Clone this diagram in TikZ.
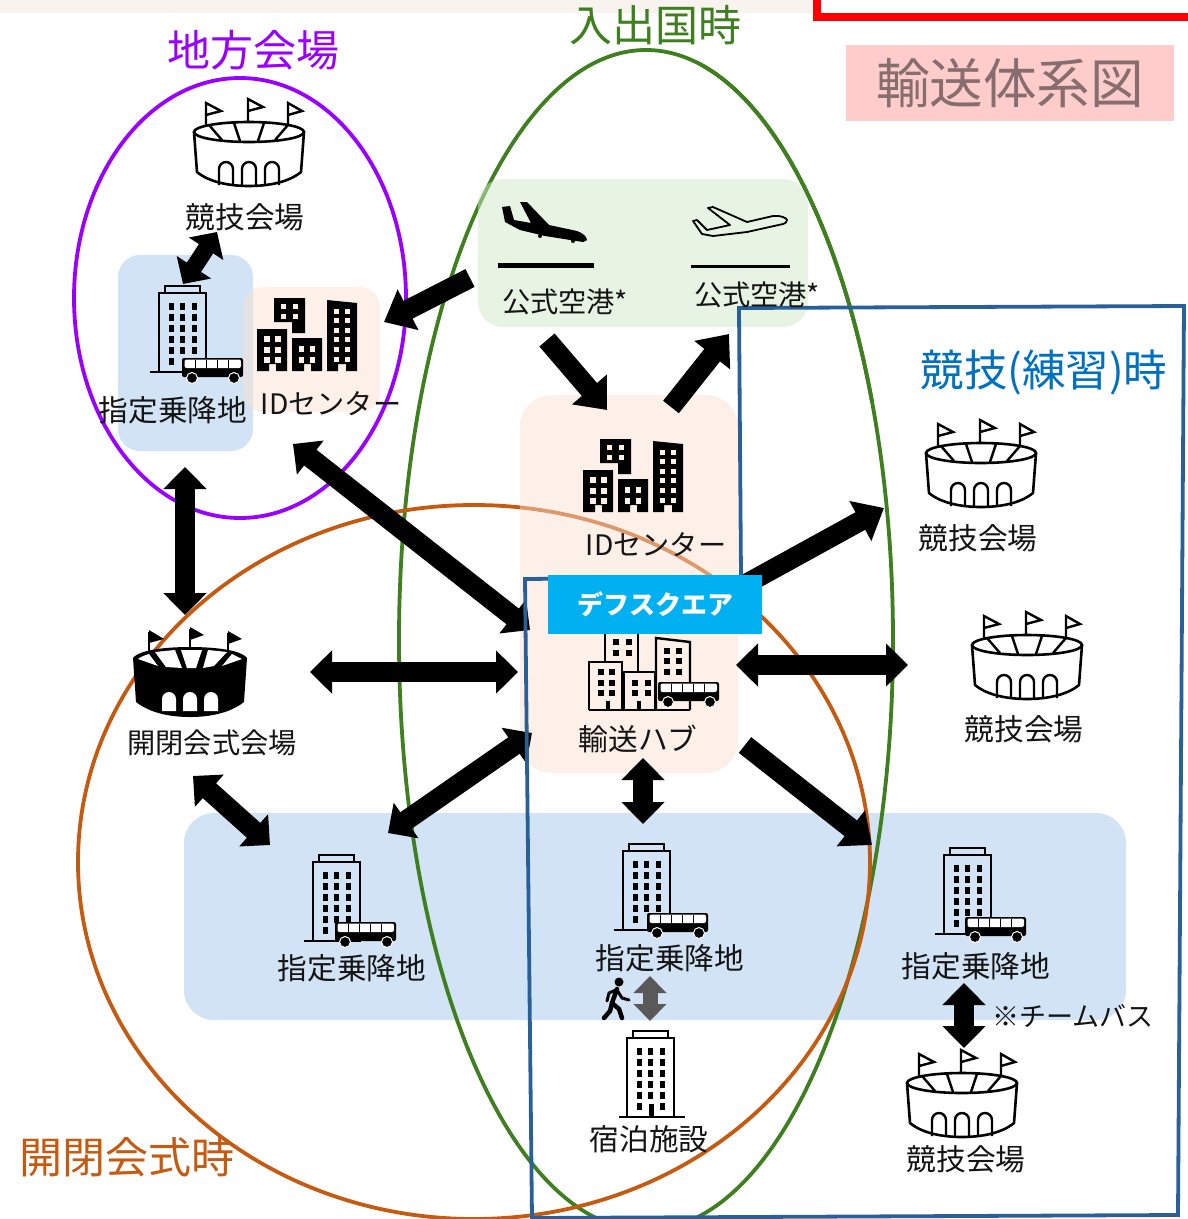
\documentclass[tikz,border=0pt]{standalone}
\usepackage{fontspec}
\setmainfont{Noto Sans CJK JP}
\usetikzlibrary{arrows.meta}
\definecolor{cpurple}{HTML}{9900FF}
\definecolor{cgreen}{HTML}{3F7F20}
\definecolor{corange}{HTML}{C55A11}
\definecolor{cblue}{HTML}{2A6099}
\definecolor{clabelblue}{HTML}{0070C0}
\definecolor{cband}{HTML}{D2E3F5}
\definecolor{cpeach}{HTML}{FBE1D2}
\definecolor{cpeachw}{HTML}{FDF0E8}
\definecolor{cgbox}{HTML}{D3EBC9}
\definecolor{ctitle}{HTML}{866E6E}
\definecolor{ctitlebg}{HTML}{FFCCCC}
\definecolor{cgrey}{HTML}{595959}
\definecolor{cdefs}{HTML}{00B0F0}
\definecolor{cstrip}{HTML}{F9F3F0}
\tikzset{
  ringline/.style={line width=3.8pt},
  lab/.style={font=\fontsize{29.7}{30}\selectfont,inner sep=0pt,text=black!92},
  labm/.style={font=\fontsize{28.2}{30}\selectfont,inner sep=0pt,text=black!92},
  labs/.style={font=\fontsize{27.5}{30}\selectfont,inner sep=0pt,text=black!92},
  biglab/.style={font=\fontsize{43}{43}\selectfont,inner sep=0pt},
  oneway/.style={line width=20pt,black,-{Triangle[length=27pt,width=44pt]}},
  twoway/.style={line width=20pt,black,{Triangle[length=22pt,width=42pt]}-{Triangle[length=22pt,width=42pt]}},
  smalltwo/.style={line width=17pt,black,{Triangle[length=20pt,width=40pt]}-{Triangle[length=20pt,width=40pt]}},
  greytwo/.style={line width=15pt,cgrey,{Triangle[length=17pt,width=32pt]}-{Triangle[length=17pt,width=32pt]}},
  stadium/.pic={
    \draw[line width=2.6pt,line join=round] (-55,0) -- (-52,40) .. controls (-40,50) and (-20,54) .. (0,54) .. controls (20,54) and (40,50) .. (52,40) -- (55,0);
    \draw[line width=2.6pt] (0,0) ellipse[x radius=55,y radius=10];
    \draw[line width=2.4pt] (-40,-7) -- (-27,8) (-15,-9) -- (-9,9) (15,-9) -- (9,9) (39,-7) -- (26,8);
    \foreach \ax in {-23,0,23}{\draw[line width=2.4pt] (\ax-7,53) -- (\ax-7,37) arc[start angle=180,end angle=360,radius=7] -- (\ax+7,53);}
    \draw[line width=2.4pt,line join=miter] (-43,-7) -- (-43,-29) -- (-28,-21) -- (-43,-17);
    \draw[line width=2.4pt,line join=miter] (-1,-11) -- (-1,-33) -- (14,-25) -- (-1,-21);
    \draw[line width=2.4pt,line join=miter] (39,-7) -- (39,-29) -- (53,-21) -- (39,-17);
  },
  stadiumblack/.pic={
    \fill[black] (-57,0) -- (-54,44) .. controls (-40,55) and (-20,59) .. (0,59) .. controls (20,59) and (40,55) .. (54,44) -- (57,0) .. controls (50,-9) and (20,-11) .. (0,-11) .. controls (-20,-11) and (-50,-9) .. (-57,0) -- cycle;
    \fill[white] (-52,1) .. controls (-48,-2) and (-44,-3) .. (-41,-4) -- (-32,8) -- cycle;
    \fill[white] (-35,-6) -- (-15,-8) -- (-8,10) -- (-24,9) -- cycle;
    \fill[white] (-9,-8) -- (12,-8) -- (6,10) -- (-3,10) -- cycle;
    \fill[white] (18,-8) -- (37,-6) -- (24,8) -- (13,10) -- cycle;
    \fill[white] (42,-4) -- (52,1) -- (32,8) -- cycle;
    \foreach \ax in {-21,0,21}{\fill[white] (\ax-7,53) -- (\ax-7,41) arc[start angle=180,end angle=360,radius=7] -- (\ax+7,53) -- cycle;}
    \draw[line width=2.4pt] (-41,-6) -- (-41,-26) (0,-8) -- (0,-29) (38,-6) -- (38,-25);
    \fill (-41,-28) -- (-26,-19) -- (-41,-15) -- cycle;
    \fill (0,-31) -- (14,-23) -- (0,-18) -- cycle;
    \fill (38,-27) -- (52,-19) -- (38,-14) -- cycle;
  },
  hotelbody/.pic={
    \draw[line width=2.5pt] (0,0) rectangle (47,-79);
    \draw[line width=2.5pt] (6,-79) -- (6,-86) -- (41,-86) -- (41,-79);
    \foreach \yy in {-69,-58,-47,-36,-25}{\foreach \xx in {9.5,21,33}{\fill (\xx,\yy) rectangle +(5,7);}}
  },
  stopicon/.pic={
    \pic {hotelbody};
    \fill (9.5,-14) rectangle +(5,7);
    \draw[line width=2.5pt] (-9,0) -- (23,0);
  },
  busicon/.pic={
    \fill[black,rounded corners=2pt] (0,0) rectangle (61,19);
    \fill[white,rounded corners=2pt] (2.5,1.5) rectangle (59,10);
    \draw[line width=1pt,black] (13,1.5) -- (13,10) (24,1.5) -- (24,10) (35,1.5) -- (35,10) (46,1.5) -- (46,10);
    \draw[line width=1pt,white,fill=black] (10,20) circle[radius=5.5];
    \draw[line width=1pt,white,fill=black] (52,20) circle[radius=5.5];
  },
  idicon/.pic={
    \fill (0,0) -- (0,-42) -- (30,-42) -- (30,0) -- (19,0) -- (19,-7) -- (12,-7) -- (12,0) -- cycle;
    \fill (35,0) -- (35,-33) -- (65,-33) -- (65,0) -- (54,0) -- (54,-7) -- (47,-7) -- (47,0) -- cycle;
    \fill (17,-49) -- (17,-73) -- (48,-73) -- (48,-38) -- (35,-38) -- (35,-49) -- cycle;
    \fill (70,0) -- (70,-71) -- (100,-68) -- (100,0) -- (89,0) -- (89,-7) -- (81,-7) -- (81,0) -- cycle;
    \foreach \xx in {7,18}{\foreach \yy in {-35,-24,-14}{\fill[cpeachw] (\xx,\yy) rectangle +(6,6);}}
    \foreach \xx in {42,53}{\foreach \yy in {-25,-14}{\fill[cpeachw] (\xx,\yy) rectangle +(5,6);}}
    \foreach \xx in {24,36}{\foreach \yy in {-67,-57}{\fill[cpeachw] (\xx,\yy) rectangle +(5,5);}}
    \foreach \xx in {77,88}{\foreach \yy in {-62,-53,-43,-34,-24,-14}{\fill[cpeachw] (\xx,\yy) rectangle +(5,5);}}
  },
}
\begin{document}
\begin{tikzpicture}[x=1pt,y=-1pt]
\useasboundingbox (0,0) rectangle (1187,1219);
\fill[white] (0,0) rectangle (1187,1219);
% top strip and red frame
\fill[cstrip] (0,0) rectangle (812,13);
\draw[red,line width=8pt] (817,-5) -- (817,17) -- (1195,17);
% title
\node[fill=ctitlebg,minimum width=328pt,minimum height=75pt,inner sep=0pt,text=ctitle,font=\fontsize{53.6}{54}\selectfont] (title) at (1010,83.5) {輸送体系図};
\fill[ctitlebg] (846,45) rectangle (1174,46);
% band
\fill[cband,rounded corners=30pt] (184,813) rectangle (1126,1020);
% ellipses
\draw[cgreen,ringline] (646,640) ellipse[x radius=247,y radius=590];
\draw[corange,ringline] (474,862) ellipse[x radius=396,y radius=357];
% translucent boxes
\fill[cgbox,opacity=.5,rounded corners=25pt] (478,179) rectangle (808,327);
\fill[cpeach,opacity=.47,rounded corners=32pt] (520,395) rectangle (738,773);
\begin{scope}
\clip (700,50) rectangle (900,400);
\draw[cgreen,ringline] (646,640) ellipse[x radius=247,y radius=590];
\end{scope}
% local
\fill[cband,rounded corners=22pt] (118,255) rectangle (253,451);
\fill[cpeach,opacity=.47,rounded corners=20pt] (243,287) rectangle (380,412);
\draw[cpurple,ringline] (240,298) ellipse[x radius=166,y radius=220];
% icons
\pic (st0) at (249,132) {stadium};
\pic (st1) at (981,453) {stadium};
\pic (st2) at (1027,645) {stadium};
\pic (st3) at (962,1083) {stadium};
\pic (st4) at (190,658) {stadiumblack};
\pic (st5) at (159,372) {stopicon};
\pic (st6) at (313,941) {stopicon};
\pic (st7) at (623,930) {stopicon};
\pic (st8) at (944,934) {stopicon};
\pic (bus5) at (182,358) {busicon};
\pic (bus6) at (335,922) {busicon};
\pic (bus7) at (647,913) {busicon};
\pic (bus8) at (965,917) {busicon};
\pic (id1) at (257,371) {idicon};
\pic (id2) at (583,512) {idicon};
% hotel
\pic (ht) at (627,1117) {hotelbody};
\fill (636.5,1103) rectangle +(5,7);
\fill (660,1103) rectangle +(5,7);
\fill (648.5,1104) rectangle (653.5,1117);
\draw[line width=2.5pt] (619,1117) -- (685,1117);
% hub
\begin{scope}[line width=2.4pt]
\draw (605,630) -- (605,662) (638,630) -- (638,672);
\draw (589,710) -- (589,662) -- (622,662) -- (622,710);
\draw (624,710) -- (624,672) -- (655,672) -- (655,710);
\draw (656,710) -- (656,638) -- (690,642) -- (690,710);
\draw (589,710) -- (690,710);
\foreach \xx in {598,609}{\foreach \yy in {669,680,690}{\fill (\xx,\yy) rectangle +(6,6);}}
\foreach \xx in {632,645}{\foreach \yy in {680,690}{\fill (\xx,\yy) rectangle +(6,6);}}
\foreach \xx in {613,626}{\foreach \yy in {639,650}{\fill (\xx,\yy) rectangle +(6,6);}}
\foreach \xx in {664,676}{\foreach \yy in {648,658,669}{\fill (\xx,\yy) rectangle +(6,6);}}
\fill (606,701) rectangle (610,710);
\fill (637,701) rectangle (641,710);
\end{scope}
\pic (bus9) at (658,682) {busicon};
% planes
\fill (502,207) -- (510,206) -- (514,220) -- (531,223) -- (520,202) -- (527,202) -- (549,225) -- (577,231) .. controls (583,233) and (587,237) .. (587,240) -- (583,242) -- (545,236) -- (520,230) -- (505,222) -- cycle;
\fill (540,236) circle[radius=2]; \fill (573,241) circle[radius=2];
\draw[line width=1.8pt,line join=round,fill=none] (693,221) -- (697,220) -- (707,230) -- (730,225) -- (708,208) -- (713,207) -- (747,222) -- (773,216) .. controls (780,215) and (787,218) .. (787,220) .. controls (787,222) and (785,224) .. (783,224) -- (747,232) -- (713,236) -- (702,234) -- cycle;
\fill (498,263) rectangle (594,268);
\fill (691,265) rectangle (790,268);
% arrows
\coordinate (a1a) at (217,232); \coordinate (a1b) at (183,284);
\draw[smalltwo] (a1a) -- (a1b);
\coordinate (a2a) at (470,278); \coordinate (a2b) at (384,322);
\draw[oneway] (a2a) -- (a2b);
\coordinate (a3a) at (547,340); \coordinate (a3b) at (607,410);
\draw[oneway] (a3a) -- (a3b);
\coordinate (a4a) at (671,407); \coordinate (a4b) at (729,334);
\draw[oneway] (a4a) -- (a4b);
\coordinate (a5a) at (185,467); \coordinate (a5b) at (185,615);
\draw[twoway] (a5a) -- (a5b);
\coordinate (a6a) at (293,444); \coordinate (a6b) at (530,630);
\draw[twoway] (a6a) -- (a6b);
\coordinate (a7a) at (310,672); \coordinate (a7b) at (518,672);
\draw[twoway] (a7a) -- (a7b);
\coordinate (a8a) at (388,833); \coordinate (a8b) at (532,733);
\draw[twoway] (a8a) -- (a8b);
\coordinate (a9a) at (193,776); \coordinate (a9b) at (270,845);
\draw[twoway] (a9a) -- (a9b);
\coordinate (a10a) at (735,590); \coordinate (a10b) at (884,508);
\draw[oneway] (a10a) -- (a10b);
\coordinate (a11a) at (736,665); \coordinate (a11b) at (908,665);
\draw[twoway] (a11a) -- (a11b);
\coordinate (a12a) at (745,745); \coordinate (a12b) at (872,845);
\draw[oneway] (a12a) -- (a12b);
\coordinate (a13a) at (643,758); \coordinate (a13b) at (643,824);
\draw[twoway] (a13a) -- (a13b);
\coordinate (a14a) at (650,976); \coordinate (a14b) at (650,1021);
\draw[greytwo] (a14a) -- (a14b);
\coordinate (a15a) at (964,983); \coordinate (a15b) at (964,1048);
\draw[twoway] (a15a) -- (a15b);
% blue frame
\draw[cblue,ringline,line join=miter] (739,308) -- (1184,306) -- (1178,1215) -- (532,1218) -- (525,579) -- (741,577) -- cycle;
% walker
\fill (619,982) circle[radius=4.5];
\draw[line width=4.5pt,line join=round,line cap=round] (617,989) -- (612,1003) -- (619,1009) -- (622,1018);
\draw[line width=4.5pt,line join=round,line cap=round] (612,1003) -- (610,1011) -- (604,1018);
\draw[line width=3pt,line join=round,line cap=round] (617,990) -- (622,998) -- (629,1000);
\draw[line width=3pt,line join=round,line cap=round] (616,990) -- (609,993) -- (607,1001);
% defsquare
\node[fill=cdefs,minimum width=214pt,minimum height=59pt,inner sep=0pt,text=white,font=\fontsize{26}{26}\selectfont\bfseries] (defs) at (655,604.5) {デフスクエア};
% labels
\node[biglab,text=cpurple] (t1) at (253,50.5) {地方会場};
\node[biglab,text=cgreen] (t2) at (655,25.5) {入出国時};
\node[biglab,text=corange] (t3) at (127,1157.5) {開閉会式時};
\node[biglab,text=clabelblue,font=\fontsize{43.5}{44}\selectfont] (t4) at (1044,372.5) {競技(練習)時};
\node[lab] (l1) at (245,217) {競技会場};
\node[lab] (l2) at (173,410) {指定乗降地};
\node[labm] (l3) at (331,404) {IDセンター};
\node[labm] (l4) at (565,302) {公式空港*};
\node[labm] (l5) at (757,295) {公式空港*};
\node[labm] (l6) at (656,545) {IDセンター};
\node[lab] (l7) at (638,739) {輸送ハブ};
\node[labm] (l8) at (212,743) {開閉会式会場};
\node[lab] (l9) at (352,968) {指定乗降地};
\node[lab] (l10) at (670,958) {指定乗降地};
\node[lab] (l11) at (976,966) {指定乗降地};
\node[lab] (l12) at (649,1139) {宿泊施設};
\node[lab] (l13) at (978,538) {競技会場};
\node[lab] (l14) at (1024,729) {競技会場};
\node[lab] (l15) at (966,1159) {競技会場};
\node[labs,font=\fontsize{27}{28}\selectfont] (l16) at (1073,1016) {※チームバス};
\end{tikzpicture}
\end{document}
